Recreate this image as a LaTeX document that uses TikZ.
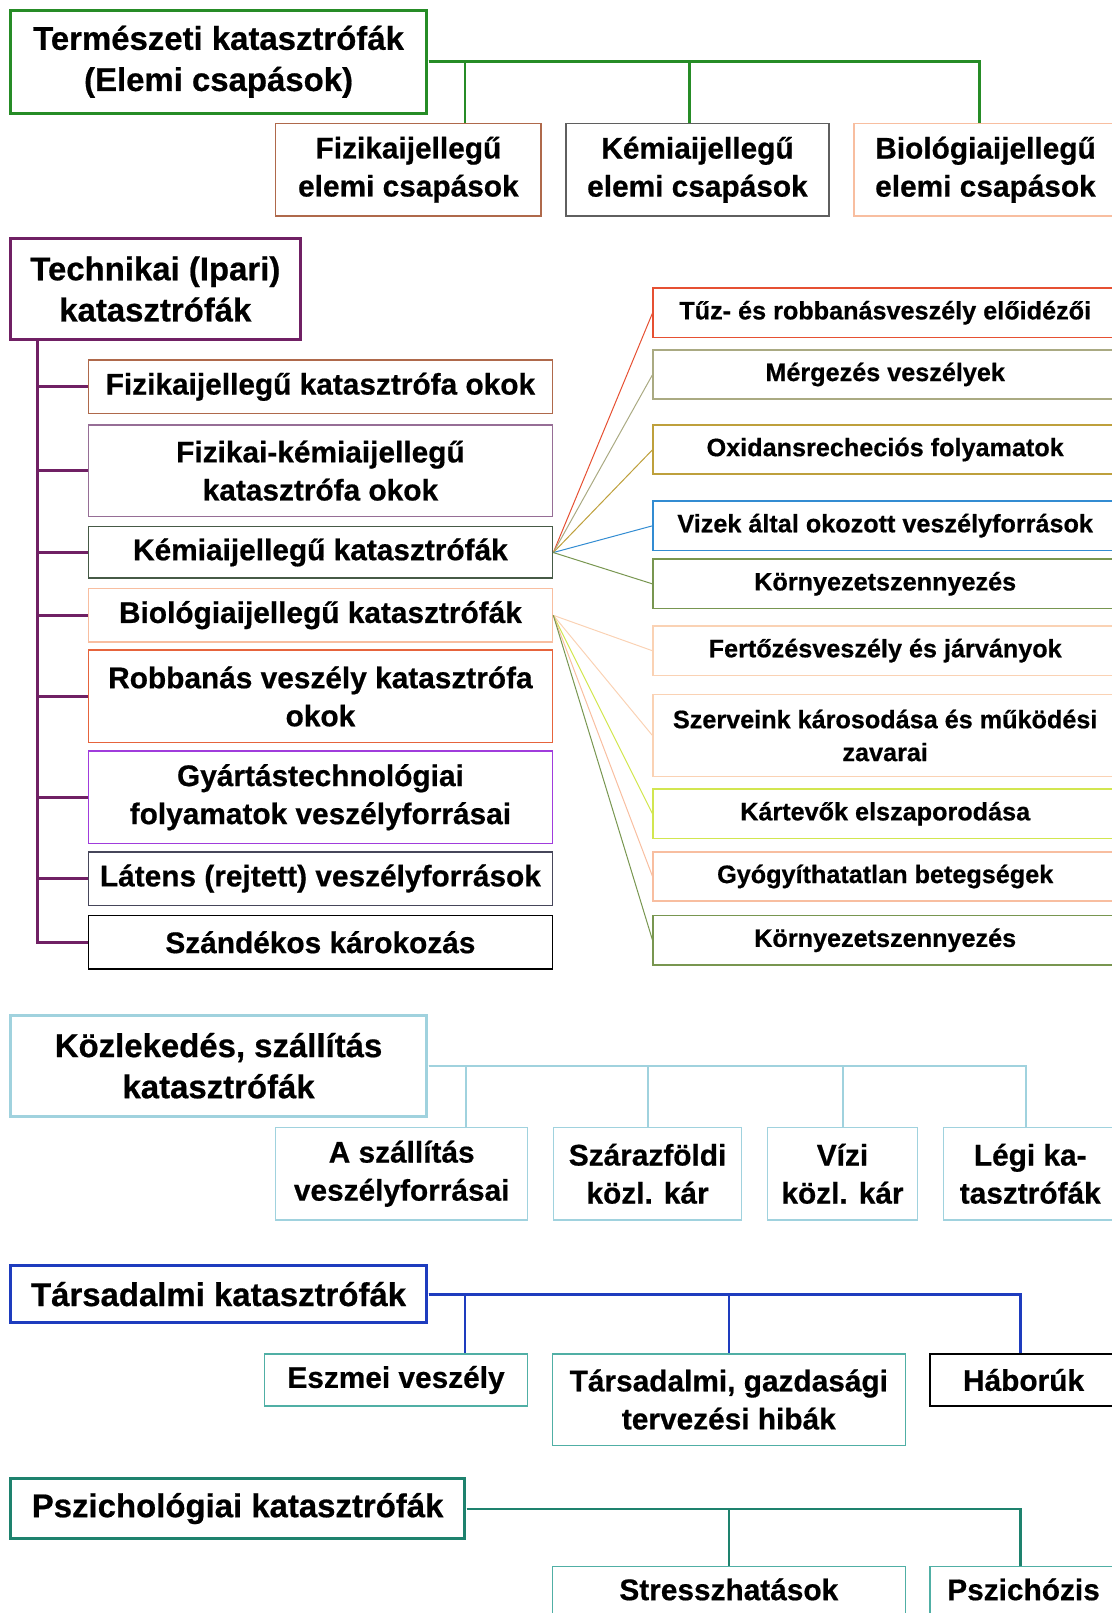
\documentclass[tikz,border=0pt]{standalone}
\usepackage{fontspec}
\setmainfont{Liberation Sans}[BoldFeatures={FakeBold=0.6}]
\usepackage{tikz}

\newcommand{\bigtxt}{\fontsize{32}{40}\selectfont\bfseries}
\newcommand{\midtxt}{\fontsize{29}{37}\selectfont\bfseries}
\newcommand{\smalltxt}{\fontsize{24.5}{32}\selectfont\bfseries}
\newcommand{\rpad}{\hspace*{44pt}}

\definecolor{cGreen}{RGB}{38,140,38}
\definecolor{cBrown}{RGB}{175,105,75}
\definecolor{cGray}{RGB}{95,95,95}
\definecolor{cPeach}{RGB}{248,190,160}
\definecolor{cPurple}{RGB}{112,32,100}
\definecolor{cDusty}{RGB}{150,110,150}
\definecolor{cDkGreen}{RGB}{70,90,70}
\definecolor{cOrange}{RGB}{230,100,60}
\definecolor{cViolet}{RGB}{160,60,220}
\definecolor{cSlate}{RGB}{70,70,90}
\definecolor{cRed}{RGB}{230,80,50}
\definecolor{cKhaki}{RGB}{170,170,130}
\definecolor{cOchre}{RGB}{190,160,60}
\definecolor{cBlueL}{RGB}{50,140,210}
\definecolor{cOlive}{RGB}{120,150,80}
\definecolor{cPeachL}{RGB}{250,210,180}
\definecolor{cLime}{RGB}{210,230,80}
\definecolor{cSky}{RGB}{160,210,222}
\definecolor{cBlue}{RGB}{30,60,190}
\definecolor{cTeal}{RGB}{80,175,165}
\definecolor{cTealD}{RGB}{30,130,110}

\begin{document}
\begin{tikzpicture}[x=1pt,y=-1pt,scale=1.0288,transform shape,
	head/.style={draw,line width=3pt,align=center,inner sep=0pt,font=\bigtxt},
	box/.style={draw,line width=1.5pt,align=center,inner sep=0pt,font=\midtxt},
	sbox/.style={draw,line width=1.5pt,align=center,inner sep=0pt,font=\smalltxt,minimum width=495,minimum height=48},
	tree/.style={line width=2.5pt},
	fan/.style={line width=1pt}]
	\useasboundingbox (0,0) rectangle (1080.6,1568);
	
	%termeszeti
	\node[head,cGreen,text=black,minimum width=405,minimum height=100] (term) at (212.5,60) {Természeti katasztrófák\\(Elemi csapások)};
	\node[box,cBrown,text=black,minimum width=258,minimum height=90] (fizel) at (397,165) {Fizikaijellegű\\elemi csapások};
	\node[box,cGray,text=black,minimum width=256,minimum height=90] (kemel) at (678,165) {Kémiaijellegű\\elemi csapások};
	\node[box,cPeach,text=black,minimum width=300,minimum height=90] (bioel) at (980,165) {Biológiaijellegű\rpad\\elemi csapások\rpad};
	\draw[tree,cGreen] (term.east) -| ([xshift=55pt]fizel.north);
	\draw[tree,cGreen] (term.east) -| ([xshift=-8pt]kemel.north);
	\draw[tree,cGreen] (term.east) -| ([xshift=-28pt]bioel.north);
	
	%technikai
	\node[head,cPurple,text=black,minimum width=282,minimum height=98] (tech) at (151,281) {Technikai (Ipari)\\katasztrófák};
	\node[box,cBrown,text=black,minimum width=451,minimum height=52] (fizok) at (311.5,376) {Fizikaijellegű katasztrófa okok};
	\node[box,cDusty,text=black,minimum width=451,minimum height=89] (fkok) at (311.5,457.5) {Fizikai-kémiaijellegű\\katasztrófa okok};
	\node[box,cDkGreen,text=black,minimum width=451,minimum height=50] (kemkat) at (311.5,537) {Kémiaijellegű katasztrófák};
	\node[box,cPeach,text=black,minimum width=451,minimum height=52] (biokat) at (311.5,598) {Biológiaijellegű katasztrófák};
	\node[box,cOrange,text=black,minimum width=451,minimum height=90] (robb) at (311.5,677) {Robbanás veszély katasztrófa\\okok};
	\node[box,cViolet,text=black,minimum width=451,minimum height=90] (gyart) at (311.5,775) {Gyártástechnológiai\\folyamatok veszélyforrásai};
	\node[box,cSlate,text=black,minimum width=451,minimum height=52] (latens) at (311.5,854) {Látens (rejtett) veszélyforrások};
	\node[box,black,minimum width=451,minimum height=52] (szand) at (311.5,916) {Szándékos károkozás};
	\draw[tree,cPurple,line width=3pt] ([xshift=-115pt]tech.south) |- (szand.west);
	\draw[tree,cPurple,line width=3pt] ([xshift=-115pt]tech.south) |- (fizok.west);
	\draw[tree,cPurple,line width=3pt] ([xshift=-115pt]tech.south) |- (fkok.west);
	\draw[tree,cPurple,line width=3pt] ([xshift=-115pt]tech.south) |- (kemkat.west);
	\draw[tree,cPurple,line width=3pt] ([xshift=-115pt]tech.south) |- (biokat.west);
	\draw[tree,cPurple,line width=3pt] ([xshift=-115pt]tech.south) |- (robb.west);
	\draw[tree,cPurple,line width=3pt] ([xshift=-115pt]tech.south) |- (gyart.west);
	\draw[tree,cPurple,line width=3pt] ([xshift=-115pt]tech.south) |- (latens.west);
	
	%right column
	\node[sbox,cRed,text=black] (tuz) at (882.5,304) {Tűz- és robbanásveszély előidézői\rpad};
	\node[sbox,cKhaki,text=black] (merg) at (882.5,364) {Mérgezés veszélyek\rpad};
	\node[sbox,cOchre,text=black] (oxid) at (882.5,437) {Oxidansrecheciós folyamatok\rpad};
	\node[sbox,cBlueL,text=black] (viz) at (882.5,511) {Vizek által okozott veszélyforrások\rpad};
	\node[sbox,cOlive,text=black] (korny) at (882.5,567.5) {Környezetszennyezés\rpad};
	\node[sbox,cPeachL,text=black] (fert) at (882.5,632.5) {Fertőzésveszély és járványok\rpad};
	\node[sbox,cPeachL,text=black,minimum height=80] (szerv) at (882.5,715) {Szerveink károsodása és működési\rpad\\zavarai\rpad};
	\node[sbox,cLime,text=black] (kartev) at (882.5,791) {Kártevők elszaporodása\rpad};
	\node[sbox,cPeach,text=black] (gyogy) at (882.5,852) {Gyógyíthatatlan betegségek\rpad};
	\node[sbox,cOlive,text=black] (kornyb) at (882.5,914) {Környezetszennyezés\rpad};
	\draw[fan,cRed] (kemkat.east) -- (tuz.west);
	\draw[fan,cKhaki] (kemkat.east) -- (merg.west);
	\draw[fan,cOchre] (kemkat.east) -- (oxid.west);
	\draw[fan,cBlueL] (kemkat.east) -- (viz.west);
	\draw[fan,cOlive] (kemkat.east) -- (korny.west);
	\draw[fan,cPeachL] (biokat.east) -- (fert.west);
	\draw[fan,cPeachL] (biokat.east) -- (szerv.west);
	\draw[fan,cLime] (biokat.east) -- (kartev.west);
	\draw[fan,cPeach] (biokat.east) -- (gyogy.west);
	\draw[fan,cOlive] (biokat.east) -- (kornyb.west);
	
	%kozlekedes
	\node[head,cSky,text=black,minimum width=405,minimum height=98] (kozl) at (212.5,1036) {Közlekedés, szállítás\\katasztrófák};
	\node[box,cSky,text=black,minimum width=245,minimum height=90] (aszall) at (390.5,1141) {A szállítás\\veszélyforrásai};
	\node[box,cSky,text=black,minimum width=183,minimum height=90] (szaraz) at (629.5,1141) {Szárazföldi\\közl. kár};
	\node[box,cSky,text=black,minimum width=146,minimum height=90] (vizi) at (819,1141) {Vízi\\közl. kár};
	\node[box,cSky,text=black,minimum width=213,minimum height=90] (legi) at (1023.5,1141) {Légi ka-\rpad\\tasztrófák\rpad};
	\draw[tree,cSky,line width=2pt] (kozl.east) -| ([xshift=62pt]aszall.north);
	\draw[tree,cSky,line width=2pt] (kozl.east) -| (szaraz.north);
	\draw[tree,cSky,line width=2pt] (kozl.east) -| (vizi.north);
	\draw[tree,cSky,line width=2pt] (kozl.east) -| ([xshift=-26pt]legi.north);
	
	%tarsadalmi
	\node[head,cBlue,text=black,minimum width=405,minimum height=56] (tars) at (212.5,1258) {Társadalmi katasztrófák};
	\node[box,cTeal,text=black,minimum width=256,minimum height=51] (eszmei) at (385,1341.5) {Eszmei veszély};
	\node[box,cTeal,text=black,minimum width=343,minimum height=89] (tgh) at (708.5,1360.5) {Társadalmi, gazdasági\\tervezési hibák};
	\node[box,black,minimum width=226,minimum height=51] (hab) at (1017,1341.5) {Háborúk\rpad};
	\draw[tree,cBlue] (tars.east) -| ([xshift=67pt]eszmei.north);
	\draw[tree,cBlue] (tars.east) -| (tgh.north);
	\draw[tree,cBlue] (tars.east) -| ([xshift=-25pt]hab.north);
	
	%pszichologiai
	\node[head,cTealD,text=black,minimum width=442,minimum height=59] (pszi) at (231,1466.5) {Pszichológiai katasztrófák};
	\node[box,cTeal,text=black,text height=21pt,text depth=66pt,minimum width=343,minimum height=110] (stress) at (708.5,1578) {Stresszhatások};
	\node[box,cTeal,text=black,text height=21pt,text depth=66pt,minimum width=226,minimum height=110] (pszich) at (1017,1578) {Pszichózis\rpad};
	\draw[tree,cTealD] (pszi.east) -| (stress.north);
	\draw[tree,cTealD] (pszi.east) -| ([xshift=-25pt]pszich.north);
\end{tikzpicture}
\end{document}
